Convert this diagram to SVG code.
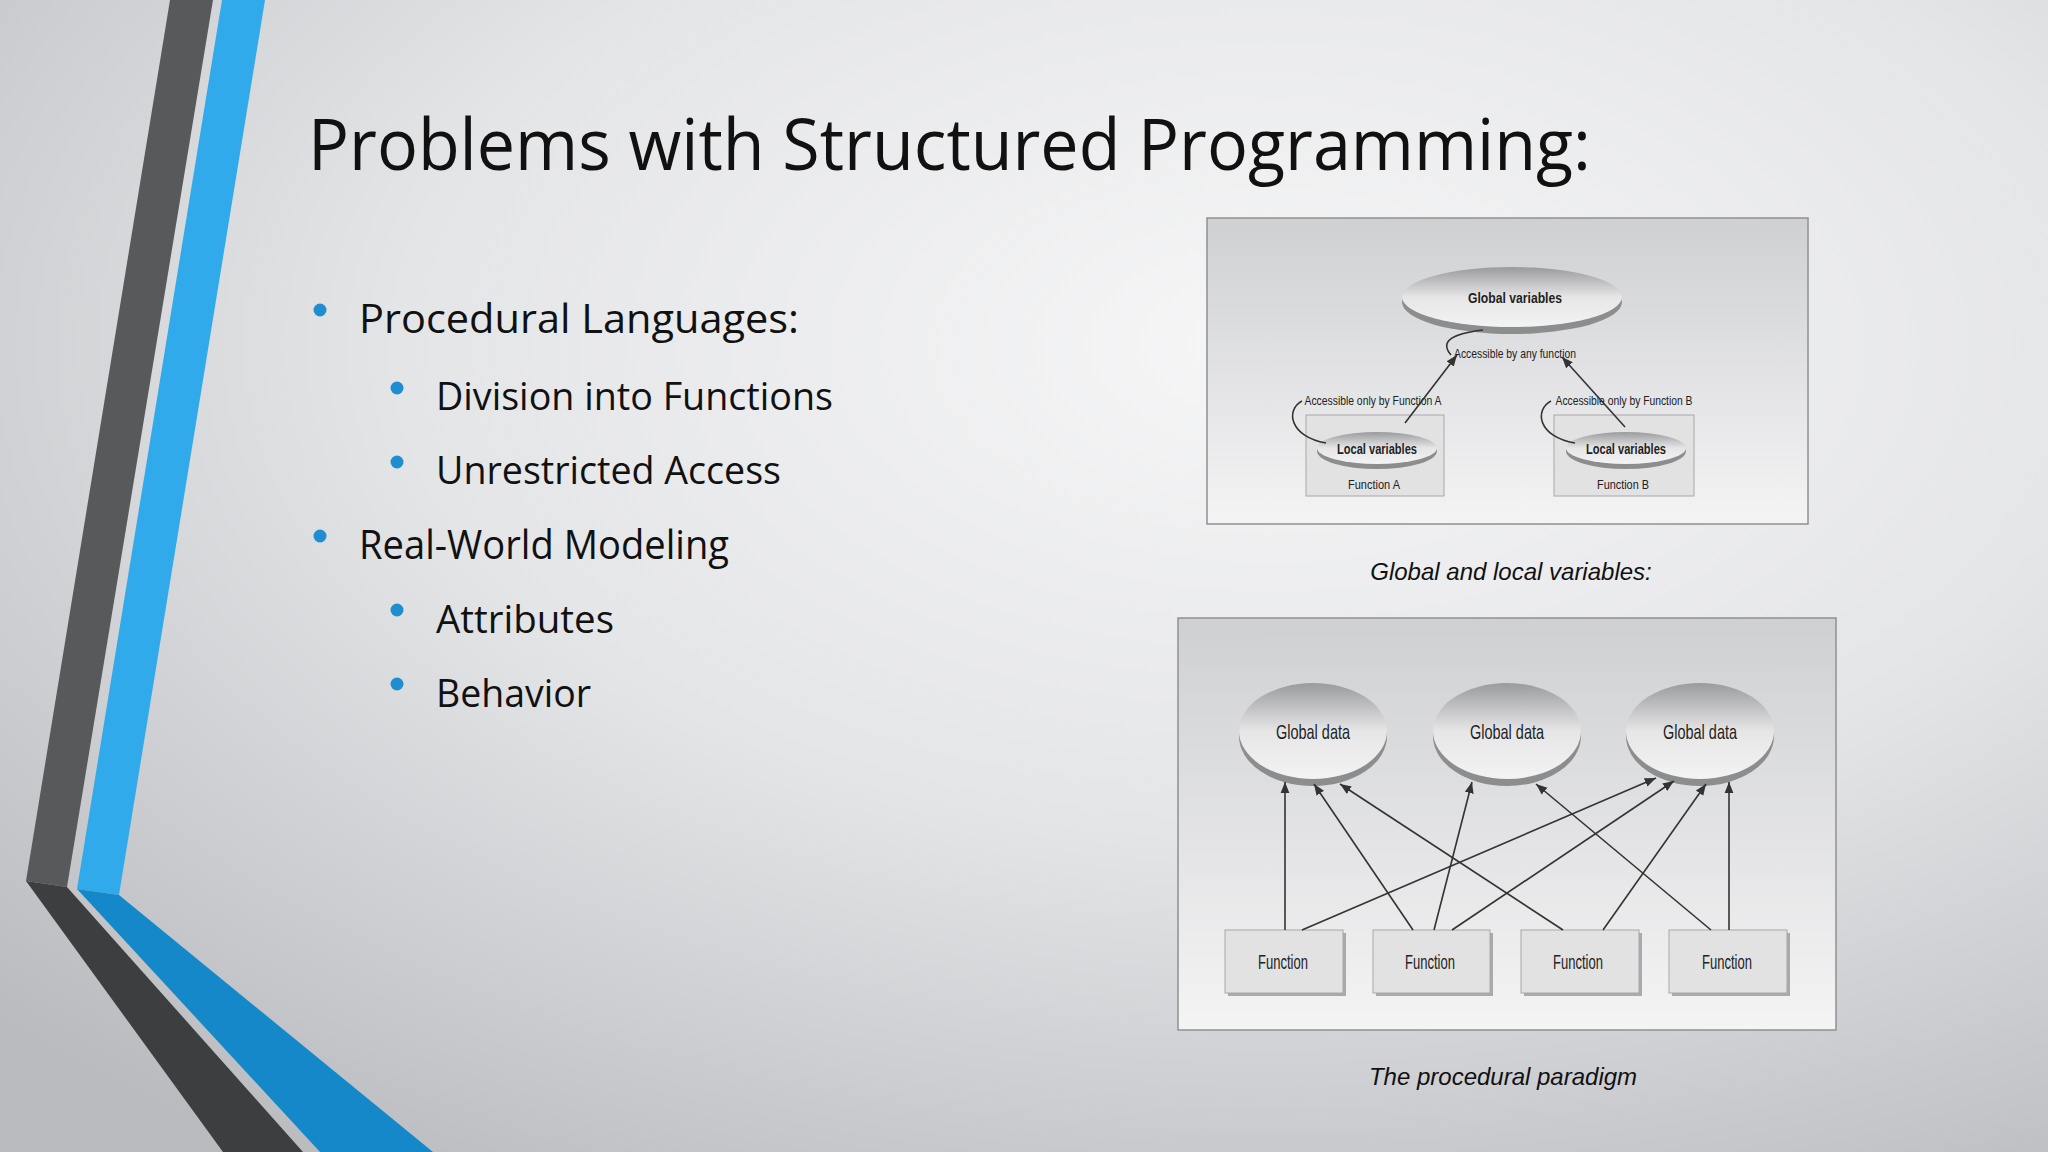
<svg xmlns="http://www.w3.org/2000/svg" width="2048" height="1152" viewBox="0 0 2048 1152">
<defs>
<radialGradient id="bg" cx="0.62" cy="0.3" r="0.85">
<stop offset="0" stop-color="#f6f6f7"/><stop offset="0.5" stop-color="#e4e5e7"/><stop offset="1" stop-color="#b9bbbf"/>
</radialGradient>
<linearGradient id="panel" x1="0" y1="0" x2="0" y2="1">
<stop offset="0" stop-color="#cfd0d2"/><stop offset="1" stop-color="#f4f4f5"/>
</linearGradient>
<linearGradient id="ell" x1="0" y1="0" x2="0" y2="1">
<stop offset="0" stop-color="#9a9b9d"/><stop offset="0.5" stop-color="#e6e6e7"/><stop offset="1" stop-color="#f3f3f3"/>
</linearGradient>
<marker id="ar" viewBox="0 0 10 10" refX="10" refY="5" markerWidth="7" markerHeight="7" orient="auto-start-reverse">
<path d="M0,1 L10,5 L0,9 z" fill="#333"/>
</marker>
<style>
.t{font-family:"Open Sans","Noto Sans",sans-serif;fill:#111}
.d{font-family:"Liberation Sans",sans-serif;fill:#222;text-anchor:middle}
.cap{font-family:"Liberation Sans",sans-serif;font-style:italic;font-size:24px;fill:#111;text-anchor:middle}
.ln{stroke:#333;stroke-width:1.6;fill:none}
.box{fill:#e2e2e3;stroke:#a8a8aa;stroke-width:1}
.eo{fill:#8c8d8f}
.el{fill:url(#ell)}
.dot{fill:#1f8ed0}
</style>
</defs>
<rect width="2048" height="1152" fill="url(#bg)"/>
<g id="decor">
<polygon points="170,0 213,0 67,887 26,881" fill="#58595b"/>
<polygon points="26,881 67,887 303,1152 223,1152" fill="#3d3e40"/>
<polygon points="222,0 265,0 119,895 77,889" fill="#31aaeb"/>
<polygon points="77,889 119,895 433,1152 320,1152" fill="#1488c8"/>
</g>
<text class="t" x="308" y="170" font-size="72" textLength="1283" lengthAdjust="spacingAndGlyphs">Problems with Structured Programming:</text>
<g id="bullets" class="t">
<circle class="dot" cx="320" cy="310" r="6.5"/><text x="359" y="333" font-size="41" textLength="440" lengthAdjust="spacingAndGlyphs">Procedural Languages:</text>
<circle class="dot" cx="397" cy="388" r="6.5"/><text x="436" y="410" font-size="39" textLength="397" lengthAdjust="spacingAndGlyphs">Division into Functions</text>
<circle class="dot" cx="397" cy="462" r="6.5"/><text x="436" y="484" font-size="39" textLength="345" lengthAdjust="spacingAndGlyphs">Unrestricted Access</text>
<circle class="dot" cx="320" cy="536" r="6.5"/><text x="359" y="559" font-size="41" textLength="370" lengthAdjust="spacingAndGlyphs">Real-World Modeling</text>
<circle class="dot" cx="397" cy="610" r="6.5"/><text x="436" y="633" font-size="39" textLength="178" lengthAdjust="spacingAndGlyphs">Attributes</text>
<circle class="dot" cx="397" cy="684" r="6.5"/><text x="436" y="707" font-size="39" textLength="155" lengthAdjust="spacingAndGlyphs">Behavior</text>
</g>
<g id="fig1">
<rect x="1207" y="218" width="601" height="306" fill="url(#panel)" stroke="#8f9093" stroke-width="1.5"/>
<g id="global-variables">
<ellipse class="eo" cx="1512" cy="302" rx="110" ry="32"/>
<ellipse class="el" cx="1512" cy="297" rx="110" ry="30"/>
<text class="d" x="1515" y="303" font-size="15" font-weight="bold" textLength="94" lengthAdjust="spacingAndGlyphs">Global  variables</text>
</g>
<g id="function-a">
<rect class="box" x="1306" y="415" width="138" height="81"/>
<ellipse class="eo" cx="1377" cy="451" rx="60" ry="18"/>
<ellipse class="el" cx="1377" cy="448" rx="60" ry="16"/>
<text class="d" x="1377" y="454" font-size="14" font-weight="bold" textLength="80" lengthAdjust="spacingAndGlyphs">Local variables</text>
<text class="d" x="1374" y="489" font-size="13" textLength="52" lengthAdjust="spacingAndGlyphs">Function A</text>
</g>
<g id="function-b">
<rect class="box" x="1554" y="415" width="140" height="81"/>
<ellipse class="eo" cx="1626" cy="451" rx="60" ry="18"/>
<ellipse class="el" cx="1626" cy="448" rx="60" ry="16"/>
<text class="d" x="1626" y="454" font-size="14" font-weight="bold" textLength="80" lengthAdjust="spacingAndGlyphs">Local variables</text>
<text class="d" x="1623" y="489" font-size="13" textLength="52" lengthAdjust="spacingAndGlyphs">Function B</text>
</g>
<g class="d" font-size="13">
<text x="1515" y="358" textLength="122" lengthAdjust="spacingAndGlyphs">Accessible by any function</text>
<text x="1373" y="405" textLength="137" lengthAdjust="spacingAndGlyphs">Accessible only by Function A</text>
<text x="1624" y="405" textLength="137" lengthAdjust="spacingAndGlyphs">Accessible only by Function B</text>
</g>
<g id="connectors1">
<line class="ln" x1="1405" y1="423" x2="1457" y2="355" marker-end="url(#ar)"/>
<line class="ln" x1="1625" y1="427" x2="1562" y2="357" marker-end="url(#ar)"/>
<path class="ln" stroke-width="1.2" d="M1451,355 C1440,342 1450,334 1483,330"/>
<path class="ln" stroke-width="1.2" d="M1302,401 C1285,410 1290,437 1326,443"/>
<path class="ln" stroke-width="1.2" d="M1551,401 C1534,410 1538,437 1575,443"/>
</g>
</g>
<text class="cap" x="1511" y="580">Global and local variables:</text>
<g id="fig2">
<rect x="1178" y="618" width="658" height="412" fill="url(#panel)" stroke="#8f9093" stroke-width="1.5"/>
<g id="gd1"><ellipse class="eo" cx="1313" cy="736" rx="74" ry="50"/><ellipse class="el" cx="1313" cy="731" rx="74" ry="48"/><text class="d" x="1313" y="739" font-size="21" textLength="74" lengthAdjust="spacingAndGlyphs">Global  data</text></g>
<g id="gd2"><ellipse class="eo" cx="1507" cy="736" rx="74" ry="50"/><ellipse class="el" cx="1507" cy="731" rx="74" ry="48"/><text class="d" x="1507" y="739" font-size="21" textLength="74" lengthAdjust="spacingAndGlyphs">Global  data</text></g>
<g id="gd3"><ellipse class="eo" cx="1700" cy="736" rx="74" ry="50"/><ellipse class="el" cx="1700" cy="731" rx="74" ry="48"/><text class="d" x="1700" y="739" font-size="21" textLength="74" lengthAdjust="spacingAndGlyphs">Global  data</text></g>
<g id="fn1"><rect x="1228" y="933" width="118" height="63" fill="#a9aaac"/><rect class="box" x="1225" y="930" width="118" height="63"/><text class="d" x="1283" y="969" font-size="21" textLength="50" lengthAdjust="spacingAndGlyphs">Function</text></g>
<g id="fn2"><rect x="1376" y="933" width="117" height="63" fill="#a9aaac"/><rect class="box" x="1373" y="930" width="117" height="63"/><text class="d" x="1430" y="969" font-size="21" textLength="50" lengthAdjust="spacingAndGlyphs">Function</text></g>
<g id="fn3"><rect x="1524" y="933" width="118" height="63" fill="#a9aaac"/><rect class="box" x="1521" y="930" width="118" height="63"/><text class="d" x="1578" y="969" font-size="21" textLength="50" lengthAdjust="spacingAndGlyphs">Function</text></g>
<g id="fn4"><rect x="1672" y="933" width="118" height="63" fill="#a9aaac"/><rect class="box" x="1669" y="930" width="118" height="63"/><text class="d" x="1727" y="969" font-size="21" textLength="50" lengthAdjust="spacingAndGlyphs">Function</text></g>
<g id="connectors2">
<line class="ln" x1="1285" y1="930" x2="1285" y2="782" marker-end="url(#ar)"/>
<line class="ln" x1="1302" y1="930" x2="1656" y2="778" marker-end="url(#ar)"/>
<line class="ln" x1="1413" y1="930" x2="1314" y2="784" marker-end="url(#ar)"/>
<line class="ln" x1="1434" y1="930" x2="1472" y2="782" marker-end="url(#ar)"/>
<line class="ln" x1="1452" y1="930" x2="1674" y2="781" marker-end="url(#ar)"/>
<line class="ln" x1="1563" y1="930" x2="1340" y2="784" marker-end="url(#ar)"/>
<line class="ln" x1="1603" y1="930" x2="1706" y2="784" marker-end="url(#ar)"/>
<line class="ln" x1="1711" y1="930" x2="1536" y2="784" marker-end="url(#ar)"/>
<line class="ln" x1="1729" y1="930" x2="1729" y2="782" marker-end="url(#ar)"/>
</g>
</g>
<text class="cap" x="1503" y="1085">The procedural paradigm</text>
</svg>
